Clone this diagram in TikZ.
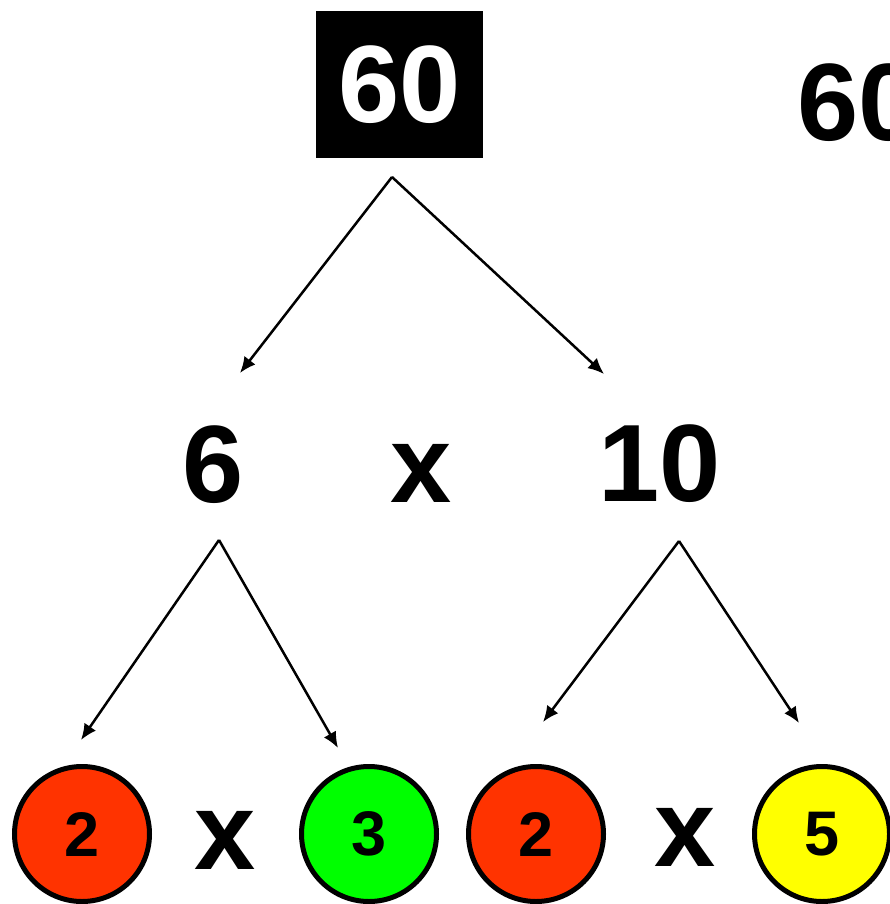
\documentclass[tikz,border=0pt]{standalone}
\usepackage{fontspec}
\setmainfont{Liberation Sans}
\usetikzlibrary{arrows.meta}

\tikzset{
    bignum/.style={font=\fontsize{110}{120}\selectfont\bfseries, inner sep=0pt},
    factor/.style={circle, draw, line width=5pt, minimum size=135pt, inner sep=0pt,
        font=\fontsize{63}{70}\selectfont\bfseries},
    branch/.style={line width=2.5pt, -{Latex[length=16pt,width=14pt]}},
}

\begin{document}
\begin{tikzpicture}[x=1pt,y=-1pt]
        \useasboundingbox (0,0) rectangle (889,904);
        % top number
        \node[bignum, fill=black, text=white, minimum width=167pt, minimum height=147pt] (top) at (399.5,84.5) {60};
        \node[bignum, anchor=west] (topright) at (797,102.5) {60};
        % first split
        \node[bignum] (six) at (213,465) {6};
        \node[bignum] (timesmid) at (421,473) {x};
        \node[bignum] (ten) at (660,464) {10};
        % prime factors
        \node[factor, fill={rgb,255:red,255;green,51;blue,0}] (twoa) at (82,834) {2};
        \node[bignum] (timesa) at (225,840) {x};
        \node[factor, fill={rgb,255:red,0;green,255;blue,0}] (three) at (369,834) {3};
        \node[factor, fill={rgb,255:red,255;green,51;blue,0}] (twob) at (536,834) {2};
        \node[bignum] (timesb) at (685,837) {x};
        \node[factor, fill={rgb,255:red,255;green,255;blue,0}] (five) at (822,834) {5};
        % branch points and arrow ends
        \coordinate (toproot) at (392,177);
        \coordinate (sixroot) at (219,540);
        \coordinate (tenroot) at (679,541);
        \coordinate (sixend) at (240,373);
        \coordinate (tenend) at (604,374);
        \coordinate (twoaend) at (81,740);
        \coordinate (threeend) at (338,748);
        \coordinate (twobend) at (543,722);
        \coordinate (fiveend) at (799,723);
        \draw[branch] (toproot) -- (sixend);
        \draw[branch] (toproot) -- (tenend);
        \draw[branch] (sixroot) -- (twoaend);
        \draw[branch] (sixroot) -- (threeend);
        \draw[branch] (tenroot) -- (twobend);
        \draw[branch] (tenroot) -- (fiveend);
    \end{tikzpicture}
\end{document}
